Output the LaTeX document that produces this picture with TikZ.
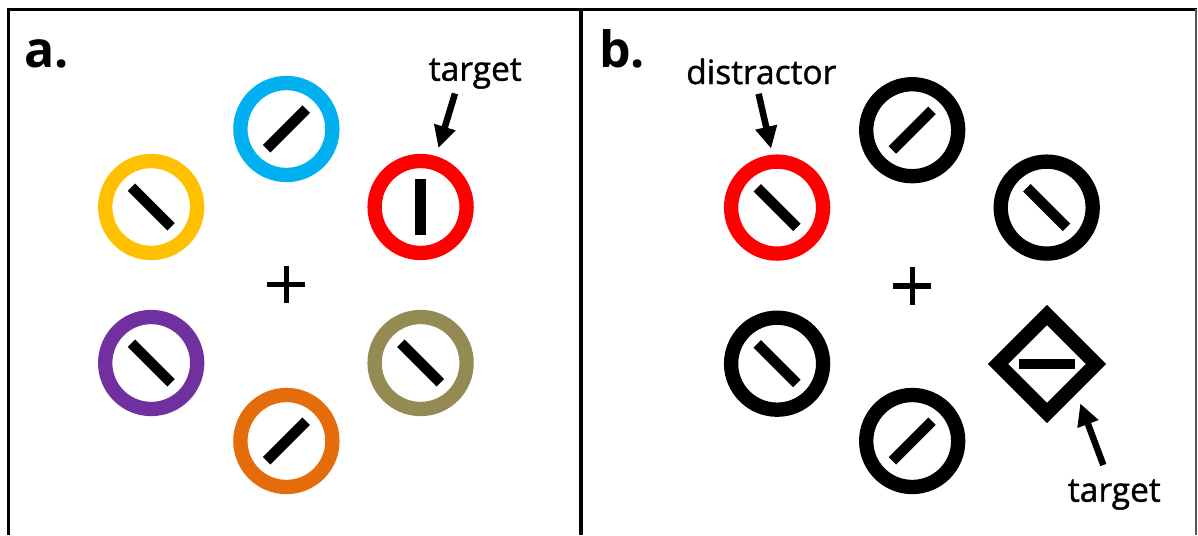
\documentclass[tikz,border=0pt]{standalone}
\usepackage{fontspec}
\setmainfont{Open Sans}
\newfontfamily\lblfont[FakeBold=1.2]{Open Sans}
\usetikzlibrary{arrows.meta,shapes.geometric}
\definecolor{ringblue}{HTML}{00B0F0}
\definecolor{ringyellow}{HTML}{FFC000}
\definecolor{ringred}{HTML}{FF0000}
\definecolor{ringpurple}{HTML}{7030A0}
\definecolor{ringolive}{HTML}{948A54}
\definecolor{ringorange}{HTML}{E46C0A}
\definecolor{edgegray}{HTML}{555555}
\begin{document}
\begin{tikzpicture}[x=1pt,y=-1pt,
  ring/.style={circle, draw=#1, line width=14.3pt, minimum size=92pt,
    inner sep=0pt, outer sep=7.15pt},
  linebar/.style={rectangle, fill=black, minimum width=56pt,
    minimum height=10.5pt, inner sep=0pt, rotate=#1},
  ptr/.style={line width=6.5pt, -{Triangle[length=22pt,width=21pt]}},
  lbl/.style={inner sep=0pt, anchor=base,
    font=\lblfont\fontsize{33.5}{40}\selectfont},
  panelletter/.style={inner sep=0pt, anchor=base west,
    font=\fontsize{50}{60}\selectfont\bfseries},
  rule/.style={line width=3pt, draw=black},
  crossline/.style={line width=5.3pt}]
\useasboundingbox (0,0) rectangle (1198,535);

% frame and divider
\draw[rule] (7,9.3) -- (1197,9.3);
\draw[rule] (8.7,9.3) -- (8.7,535);
\draw[line width=4pt] (581,9.3) -- (581,535);
\draw[line width=2pt, draw=edgegray] (1196,9.3) -- (1196,535);

% ---- panel a: coloured rings around a fixation cross
\node[panelletter] (la) at (24,67) {a.};
\draw[crossline] (267.3,284.5) -- (305.1,284.5);
\draw[crossline] (286.2,265.8) -- (286.2,303.2);

\node[ring=ringblue]   (blue)   at (286.4,129) {};
\node[ring=ringyellow] (yellow) at (151.2,207) {};
\node[ring=ringred]    (red)    at (420.6,207) {};
\node[ring=ringpurple] (purple) at (151.2,363) {};
\node[ring=ringolive]  (olive)  at (420.6,363) {};
\node[ring=ringorange] (orange) at (286.4,441) {};

\node[linebar=45]  (bblue)   at (blue)   {};
\node[linebar=-45] (byellow) at (yellow) {};
\node[linebar=90]  (bred)    at (red)    {};
\node[linebar=-45] (bpurple) at (purple) {};
\node[linebar=-45] (bolive)  at (olive)  {};
\node[linebar=45]  (borange) at (orange) {};

\node[lbl] (tgtA) at (475.3,80.7) {target};
\coordinate (tailA) at (455,93.5);
\draw[ptr, shorten >=8.4pt] (tailA) -- (red);

% ---- panel b: black rings, one red distractor, diamond target
\node[panelletter] (lb) at (599,67) {b.};
\draw[crossline] (893.3,286) -- (931.1,286);
\draw[crossline] (912.2,267.3) -- (912.2,304.7);

\node[ring=black]   (top)    at (912.2,130.2) {};
\node[ring=ringred] (distr)  at (777.1,207.6) {};
\node[ring=black]   (right)  at (1046.7,207.6) {};
\node[ring=black]   (lowl)   at (777.1,363.7) {};
\node[ring=black]   (bottom) at (912.2,441) {};
\node[diamond, draw=black, line width=14.3pt, minimum width=104pt,
      minimum height=104pt, inner sep=0pt, aspect=1] (diam) at (1047,364) {};

\node[linebar=45]  (btop)    at (top)    {};
\node[linebar=-45] (bdistr)  at (distr)  {};
\node[linebar=-45] (bright)  at (right)  {};
\node[linebar=-45] (blowl)   at (lowl)   {};
\node[linebar=45]  (bbottom) at (bottom) {};
\node[linebar=0]   (bdiam)   at (diam)   {};

\node[lbl] (distrl) at (761.3,84) {distractor};
\coordinate (tailD) at (758.6,93.8);
\draw[ptr, shorten >=6.2pt] (tailD) -- (distr.95);

\node[lbl] (tgtB) at (1114.3,501.7) {target};
\coordinate (tailB) at (1103.3,465);
\draw[ptr, shorten >=10.5pt] (tailB) -- (diam.-45);
\end{tikzpicture}
\end{document}
